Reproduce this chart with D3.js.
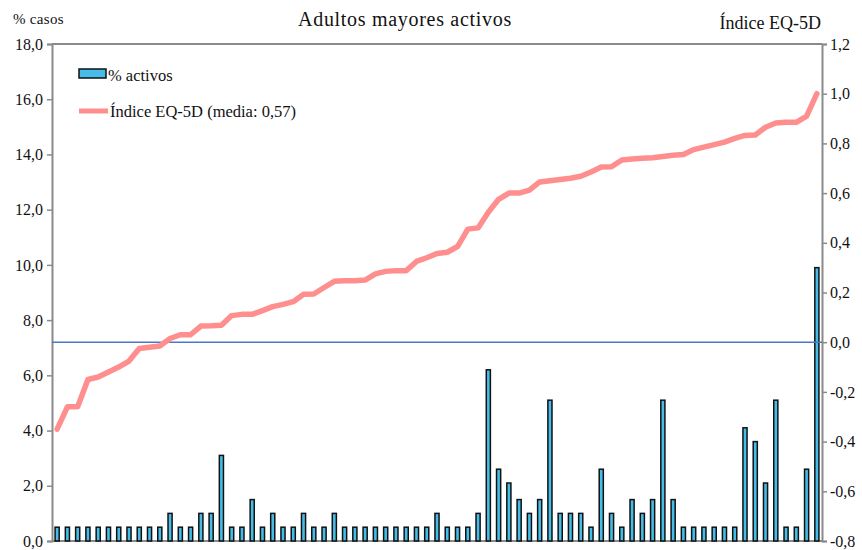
<!DOCTYPE html>
<html>
<head>
<meta charset="utf-8">
<script src="https://cdn.jsdelivr.net/npm/d3@7"></script>
<style>
  html, body { margin: 0; padding: 0; background: #fff; }
  svg { display: block; }
  svg text { font-family: "Liberation Serif", "Tinos", "DejaVu Serif", "Times New Roman", serif; }
</style>
</head>
<body>
<svg id="chart" width="862" height="550"></svg>
<script>
// ---- Data ----
const activos = [
  0.5, 0.5, 0.5, 0.5, 0.5, 0.5, 0.5, 0.5, 0.5, 0.5,
  0.5, 1.0, 0.5, 0.5, 1.0, 1.0, 3.1, 0.5, 0.5, 1.5,
  0.5, 1.0, 0.5, 0.5, 1.0, 0.5, 0.5, 1.0, 0.5, 0.5,
  0.5, 0.5, 0.5, 0.5, 0.5, 0.5, 0.5, 1.0, 0.5, 0.5,
  0.5, 1.0, 6.2, 2.6, 2.1, 1.5, 1.0, 1.5, 5.1, 1.0,
  1.0, 1.0, 0.5, 2.6, 1.0, 0.5, 1.5, 1.0, 1.5, 5.1,
  1.5, 0.5, 0.5, 0.5, 0.5, 0.5, 0.5, 4.1, 3.6, 2.1,
  5.1, 0.5, 0.5, 2.6, 9.9
];
const indiceEQ5D = [
  -0.35, -0.26, -0.26, -0.15, -0.14, -0.12, -0.10, -0.076, -0.025, -0.02,
  -0.015, 0.015, 0.03, 0.03, 0.065, 0.066, 0.068, 0.107, 0.112, 0.112,
  0.127, 0.143, 0.152, 0.163, 0.193, 0.194, 0.22, 0.245, 0.247, 0.247,
  0.25, 0.275, 0.285, 0.288, 0.288, 0.325, 0.34, 0.357, 0.362, 0.385,
  0.455, 0.46, 0.523, 0.575, 0.60, 0.60, 0.612, 0.645, 0.65, 0.655,
  0.66, 0.668, 0.685, 0.705, 0.706, 0.733, 0.737, 0.74, 0.742, 0.747,
  0.752, 0.755, 0.775, 0.785, 0.795, 0.805, 0.82, 0.832, 0.834, 0.865,
  0.882, 0.885, 0.885, 0.91, 1.0
];
const categories = activos.map((_, i) => i);
const leftTicks = [0, 2, 4, 6, 8, 10, 12, 14, 16, 18];
const rightTicks = [-0.8, -0.6, -0.4, -0.2, 0, 0.2, 0.4, 0.6, 0.8, 1.0, 1.2];
const title = "Adultos mayores activos";
const leftTitle = "% casos";
const rightTitle = "Índice EQ-5D";
const legendBars = "% activos";
const legendLine = "Índice EQ-5D (media: 0,57)";

// ---- Layout ----
const SERIF = "'Liberation Serif', Tinos, 'DejaVu Serif', 'Times New Roman', serif";
const svg = d3.select("#chart");
const plot = { left: 52, right: 822, top: 44, bottom: 541 };

const x = d3.scaleBand().domain(categories)
  .range([plot.left, plot.right]).paddingInner(0.6).paddingOuter(0.3);
const yL = d3.scaleLinear().domain([0, 18]).range([plot.bottom, plot.top]);
const yR = d3.scaleLinear().domain([-0.8, 1.2]).range([plot.bottom, plot.top]);

const fmt1 = v => d3.format(".1f")(v).replace(".", ",").replace("−", "-");
const axisColor = "#8a8a8a";

// Frame: top and bottom lines
svg.append("line").attr("x1", plot.left).attr("x2", plot.right)
  .attr("y1", plot.top).attr("y2", plot.top)
  .attr("stroke", axisColor).attr("stroke-width", 2);
svg.append("line").attr("x1", plot.left).attr("x2", plot.right)
  .attr("y1", plot.bottom).attr("y2", plot.bottom)
  .attr("stroke", axisColor).attr("stroke-width", 2);

// Left axis
const gL = svg.append("g").attr("transform", `translate(${plot.left},0)`)
  .call(d3.axisLeft(yL).tickValues(leftTicks).tickFormat(fmt1).tickSizeOuter(0).tickSize(5).tickPadding(4));
// Right axis
const gR = svg.append("g").attr("transform", `translate(${plot.right},0)`)
  .call(d3.axisRight(yR).tickValues(rightTicks).tickFormat(fmt1).tickSizeOuter(0).tickSize(5).tickPadding(3));
[gL, gR].forEach(g => {
  g.attr("font-family", SERIF).attr("font-size", 16);
  g.select(".domain").attr("stroke", axisColor).attr("stroke-width", 2);
  g.selectAll(".tick line").attr("stroke", axisColor).attr("stroke-width", 1.5);
  g.selectAll(".tick text").attr("fill", "#111")
    .attr("font-family", SERIF).attr("font-size", 16);
});

// Bars
svg.append("g").selectAll("rect").data(activos).join("rect")
  .attr("x", (d, i) => x(categories[i]))
  .attr("width", x.bandwidth())
  .attr("y", d => yL(d))
  .attr("height", d => yL(0) - yL(d))
  .attr("fill", "#45bde8")
  .attr("stroke", "#111")
  .attr("stroke-width", 1.5);

// Zero line (right axis)
svg.append("line").attr("x1", plot.left).attr("x2", plot.right)
  .attr("y1", yR(0)).attr("y2", yR(0))
  .attr("stroke", "#4a78c8").attr("stroke-width", 1.6);

// EQ-5D line
const line = d3.line()
  .x((d, i) => x(categories[i]) + x.bandwidth() / 2)
  .y(d => yR(d));
svg.append("path").datum(indiceEQ5D)
  .attr("d", line)
  .attr("fill", "none")
  .attr("stroke", "#ff8f8f")
  .attr("stroke-width", 5.5)
  .attr("stroke-linejoin", "round")
  .attr("stroke-linecap", "round");

// Titles
const txt = (xx, yy, s, size, anchor, ls) => svg.append("text")
  .attr("x", xx).attr("y", yy).attr("text-anchor", anchor || "start")
  .attr("font-family", SERIF).attr("font-size", size)
  .attr("letter-spacing", ls || 0).attr("fill", "#111").text(s);
txt(405, 26, title, 20, "middle", 0.7);
txt(13, 24, leftTitle, 15, "start", 0.3);
txt(821, 29, rightTitle, 18, "end");

// Legend
svg.append("rect").attr("x", 79).attr("y", 69).attr("width", 27).attr("height", 9)
  .attr("fill", "#45bde8").attr("stroke", "#111").attr("stroke-width", 1.5);
txt(108, 81, legendBars, 16.5);
svg.append("line").attr("x1", 79).attr("x2", 108).attr("y1", 111).attr("y2", 111)
  .attr("stroke", "#ff8f8f").attr("stroke-width", 5);
txt(110, 117, legendLine, 16.5);
</script>
</body>
</html>
